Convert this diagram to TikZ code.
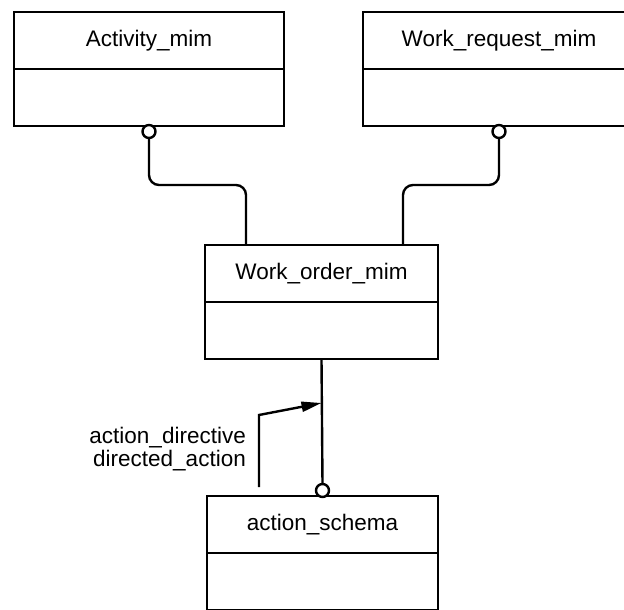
\documentclass[tikz,border=0pt]{standalone}
\usepackage{fontspec}
\setmainfont{Liberation Sans}
\usetikzlibrary{positioning,arrows.meta}
\tikzset{
  entity/.style={draw, line width=2.4pt, minimum height=57pt, inner sep=0pt, outer sep=0pt,
    font=\fontsize{22.5}{23}\selectfont},
  ring/.style={draw, circle, line width=2.4pt, fill=white, minimum size=13pt, inner sep=0pt, outer sep=0pt},
  link/.style={line width=2.4pt, rounded corners=10pt},
}

\begin{document}
\begin{tikzpicture}[x=1pt,y=1pt]
    \useasboundingbox (0,0) rectangle (624,-610);
    \clip (0,0) rectangle (624,-610);

    % entities
    \node[entity, minimum width=270pt] (act) at (149,-40.5) {Activity\_mim};
    \node[entity, minimum width=270pt, below=0pt of act] (actbody) {};
    \node[entity, minimum width=272pt] (wr) at (499,-40.5) {Work\_request\_mim};
    \node[entity, minimum width=272pt, below=0pt of wr] (wrbody) {};
    \node[entity, minimum width=233pt] (wo) at (321.5,-273.5) {Work\_order\_mim};
    \node[entity, minimum width=233pt, below=0pt of wo] (wobody) {};
    \node[entity, minimum width=231pt] (as) at (322.5,-524.5) {action\_schema};
    \node[entity, minimum width=231pt, below=0pt of as] (asbody) {};

    % rings
    \node[ring, below=-1pt of actbody] (actring) {};
    \node[ring, below=-1pt of wrbody] (wrring) {};
    \node[ring, above=-1pt of as] (asring) {};

    \coordinate (woa) at ([xshift=-75.5pt]wo.north);
    \coordinate (wob) at ([xshift=81.5pt]wo.north);
    \draw[link] (actring.south) -- ++(0,-47) -| (woa);
    \draw[link] (wrring.south) -- ++(0,-47) -| (wob);
    \draw[link] (wobody.south) -- (asring.north);

    % role
    \coordinate (roletip) at ([yshift=-44pt]wobody.south);
    \coordinate (rolefoot) at (259,-487);
    \draw[line width=2.4pt, -{Triangle[length=20pt,width=10pt]}] (rolefoot) -- ++(0,72) -- (roletip);
    \node[anchor=east, align=right, inner sep=0pt, font=\fontsize{22.5}{23}\selectfont]
        (rolelbl) at (246,-449) {action\_directive\\directed\_action};

\end{tikzpicture}
\end{document}
